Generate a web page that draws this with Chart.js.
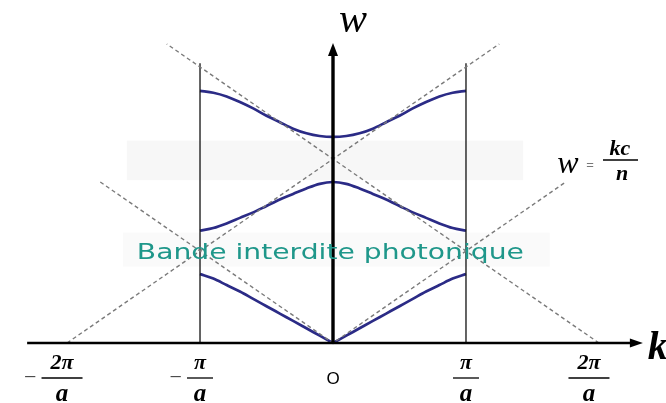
<!DOCTYPE html>
<html>
<head>
<meta charset="utf-8">
<script src="https://cdn.jsdelivr.net/npm/chart.js@4.4.1/dist/chart.umd.min.js"></script>
<style>
  html, body { margin: 0; padding: 0; background: #fff; }
  #wrap { width: 666px; height: 403px; }
</style>
</head>
<body>
<div id="wrap"><canvas id="bandChart" width="666" height="403"></canvas></div>
<script>
// k in units of pi/a, w scaled so that the light line reads w = |k|
const kValues = [-1, -0.9, -0.8, -0.7, -0.6, -0.5, -0.4, -0.3, -0.2, -0.1, 0,
                 0.1, 0.2, 0.3, 0.4, 0.5, 0.6, 0.7, 0.8, 0.9, 1];
const band1 = [0.75, 0.70, 0.63, 0.56, 0.48, 0.40, 0.32, 0.24, 0.16, 0.08, 0,
               0.08, 0.16, 0.24, 0.32, 0.40, 0.48, 0.56, 0.63, 0.70, 0.75];
const band2 = [1.22, 1.25, 1.30, 1.36, 1.42, 1.49, 1.56, 1.62, 1.68, 1.73, 1.75,
               1.73, 1.68, 1.62, 1.56, 1.49, 1.42, 1.36, 1.30, 1.25, 1.22];
const band3 = [2.74, 2.72, 2.68, 2.62, 2.55, 2.47, 2.40, 2.33, 2.28, 2.25, 2.24,
               2.25, 2.28, 2.33, 2.40, 2.47, 2.55, 2.62, 2.68, 2.72, 2.74];

// light line w = kc/n and its two folded copies starting at +-2pi/a
const lightK = [-1.75, 0, 1.75];
const lightW = [1.75, 0, 1.75];
const foldLeftK = [-2, 1.25];
const foldLeftW = [0, 3.25];
const foldRightK = [2, -1.25];
const foldRightW = [0, 3.25];

// Brillouin zone edges
const zoneK = [-1, 1];
const zoneTop = 3.04;

// axis ticks
const tickK = [-2, -1, 0, 1, 2];
const tickNum = ['2π', 'π', '', 'π', '2π'];
const tickSign = ['−', '−', '', '', ''];

const pts = (xs, ys) => xs.map((x, i) => ({ x: x, y: ys[i] }));

const BLUE = '#2b2b86';
const DASH = '#7a7a7a';

function curve(xs, ys) {
    return {
        data: pts(xs, ys),
        borderColor: BLUE,
        borderWidth: 2.7,
        pointRadius: 0,
        tension: 0.4,
        cubicInterpolationMode: 'monotone',
        showLine: true
    };
}

function dashed(xs, ys) {
    return {
        data: pts(xs, ys),
        borderColor: DASH,
        borderWidth: 1.4,
        borderDash: [4, 3],
        pointRadius: 0,
        tension: 0,
        showLine: true
    };
}

// the lowest band has a sharp corner at k = 0, so each half is drawn on its own
const mid = kValues.indexOf(0);

const datasets = [
    dashed(lightK, lightW),
    dashed(foldLeftK, foldLeftW),
    dashed(foldRightK, foldRightW),
    {
        data: pts([zoneK[0], zoneK[0]], [0, zoneTop]),
        borderColor: '#111', borderWidth: 1.3, pointRadius: 0, showLine: true
    },
    {
        data: pts([zoneK[1], zoneK[1]], [0, zoneTop]),
        borderColor: '#111', borderWidth: 1.3, pointRadius: 0, showLine: true
    },
    curve(kValues.slice(0, mid + 1), band1.slice(0, mid + 1)),
    curve(kValues.slice(mid), band1.slice(mid)),
    curve(kValues, band2),
    curve(kValues, band3)
];

// faint shading over the two band gaps
const gapShade = {
    id: 'gapShade',
    beforeDatasetsDraw(chart) {
        const { ctx, scales: { x, y } } = chart;
        ctx.save();
        ctx.fillStyle = '#f7f7f7';
        ctx.fillRect(x.getPixelForValue(-1.55), y.getPixelForValue(2.2),
            x.getPixelForValue(1.43) - x.getPixelForValue(-1.55),
            y.getPixelForValue(1.77) - y.getPixelForValue(2.2));
        ctx.fillStyle = '#fafafa';
        ctx.fillRect(x.getPixelForValue(-1.58), y.getPixelForValue(1.2),
            x.getPixelForValue(1.63) - x.getPixelForValue(-1.58),
            y.getPixelForValue(0.83) - y.getPixelForValue(1.2));
        ctx.restore();
    }
};

function fraction(ctx, cx, num, den, numFont, denFont, w) {
    const yLine = 378;
    ctx.font = numFont;
    ctx.textAlign = 'center';
    ctx.textBaseline = 'alphabetic';
    ctx.fillText(num, cx, 369);
    ctx.beginPath();
    ctx.moveTo(cx - w / 2, yLine);
    ctx.lineTo(cx + w / 2, yLine);
    ctx.lineWidth = 1.3;
    ctx.stroke();
    ctx.font = denFont;
    ctx.fillText(den, cx, 401);
}

// axes, arrows and the hand-set labels
const axesLayer = {
    id: 'axesLayer',
    afterDatasetsDraw(chart) {
        const { ctx, scales: { x, y } } = chart;
        const x0 = x.getPixelForValue(0);
        const y0 = y.getPixelForValue(0);
        ctx.save();
        ctx.strokeStyle = '#000';
        ctx.fillStyle = '#000';

        // k axis
        const xEnd = x.getPixelForValue(2.33);
        ctx.lineWidth = 2.6;
        ctx.beginPath();
        ctx.moveTo(x.getPixelForValue(-2.3), y0);
        ctx.lineTo(xEnd - 8, y0);
        ctx.stroke();
        ctx.beginPath();
        ctx.moveTo(xEnd, y0);
        ctx.lineTo(xEnd - 13, y0 - 4.5);
        ctx.lineTo(xEnd - 13, y0 + 4.5);
        ctx.closePath();
        ctx.fill();

        // w axis
        const yEnd = y.getPixelForValue(3.26);
        ctx.lineWidth = 3.4;
        ctx.beginPath();
        ctx.moveTo(x0, y0);
        ctx.lineTo(x0, yEnd + 8);
        ctx.stroke();
        ctx.beginPath();
        ctx.moveTo(x0, yEnd);
        ctx.lineTo(x0 - 5, yEnd + 13);
        ctx.lineTo(x0 + 5, yEnd + 13);
        ctx.closePath();
        ctx.fill();

        // tick labels as fractions
        tickK.forEach((k, i) => {
            let cx = x.getPixelForValue(k);
            if (k === 0) {
                ctx.font = '17px "Liberation Sans"';
                ctx.textAlign = 'center';
                ctx.textBaseline = 'middle';
                ctx.fillText('O', cx, 379);
                return;
            }
            if (Math.abs(k) === 2) cx += k < 0 ? -5 : -10;
            const w = Math.abs(k) === 2 ? 41 : 26;
            fraction(ctx, cx, tickNum[i], 'a',
                'bold italic 22px "Liberation Serif"', 'bold italic 25px "Liberation Serif"', w);
            if (tickSign[i]) {
                ctx.fillStyle = '#444';
                ctx.font = '22px "Liberation Serif"';
                ctx.textAlign = 'right';
                ctx.textBaseline = 'middle';
                ctx.fillText(tickSign[i], cx - w / 2 - 5, 378);
                ctx.fillStyle = '#000';
            }
        });

        // axis names
        ctx.textBaseline = 'alphabetic';
        ctx.textAlign = 'left';
        ctx.font = 'bold italic 40px "Liberation Serif"';
        ctx.fillText('k', xEnd + 5, 359);
        ctx.textAlign = 'center';
        ctx.font = 'italic 42px "Liberation Serif"';
        ctx.fillText('w', x0 + 20, 32);

        // light line label  w = kc/n
        ctx.font = 'italic 32px "Liberation Serif"';
        ctx.fillText('w', 568, 173);
        ctx.fillStyle = '#777';
        ctx.font = '13px "Liberation Sans"';
        ctx.fillText('=', 590, 169);
        ctx.fillStyle = '#000';
        ctx.font = 'bold italic 22px "Liberation Serif"';
        ctx.fillText('kc', 620, 155);
        ctx.beginPath();
        ctx.moveTo(603, 160);
        ctx.lineTo(638, 160);
        ctx.lineWidth = 1.3;
        ctx.stroke();
        ctx.fillText('n', 622, 180);

        // band gap caption, stretched to its width
        const text = 'Bande interdite photonique';
        ctx.font = '22px "DejaVu Sans"';
        const tw = ctx.measureText(text).width;
        const target = 387;
        ctx.translate(x.getPixelForValue(-0.02), 259);
        ctx.scale(target / tw, 1);
        ctx.fillStyle = '#1f978a';
        ctx.textAlign = 'center';
        ctx.fillText(text, 0, 0);
        ctx.restore();
    }
};

new Chart(document.getElementById('bandChart'), {
    type: 'scatter',
    data: { datasets: datasets },
    options: {
        responsive: false,
        animation: false,
        layout: { padding: 0 },
        plugins: { legend: { display: false }, tooltip: { enabled: false } },
        scales: {
            x: { type: 'linear', display: false, min: -2.504, max: 2.504 },
            y: { type: 'linear', display: false, min: -0.652, max: 3.728 }
        }
    },
    plugins: [gapShade, axesLayer]
});
</script>
</body>
</html>
